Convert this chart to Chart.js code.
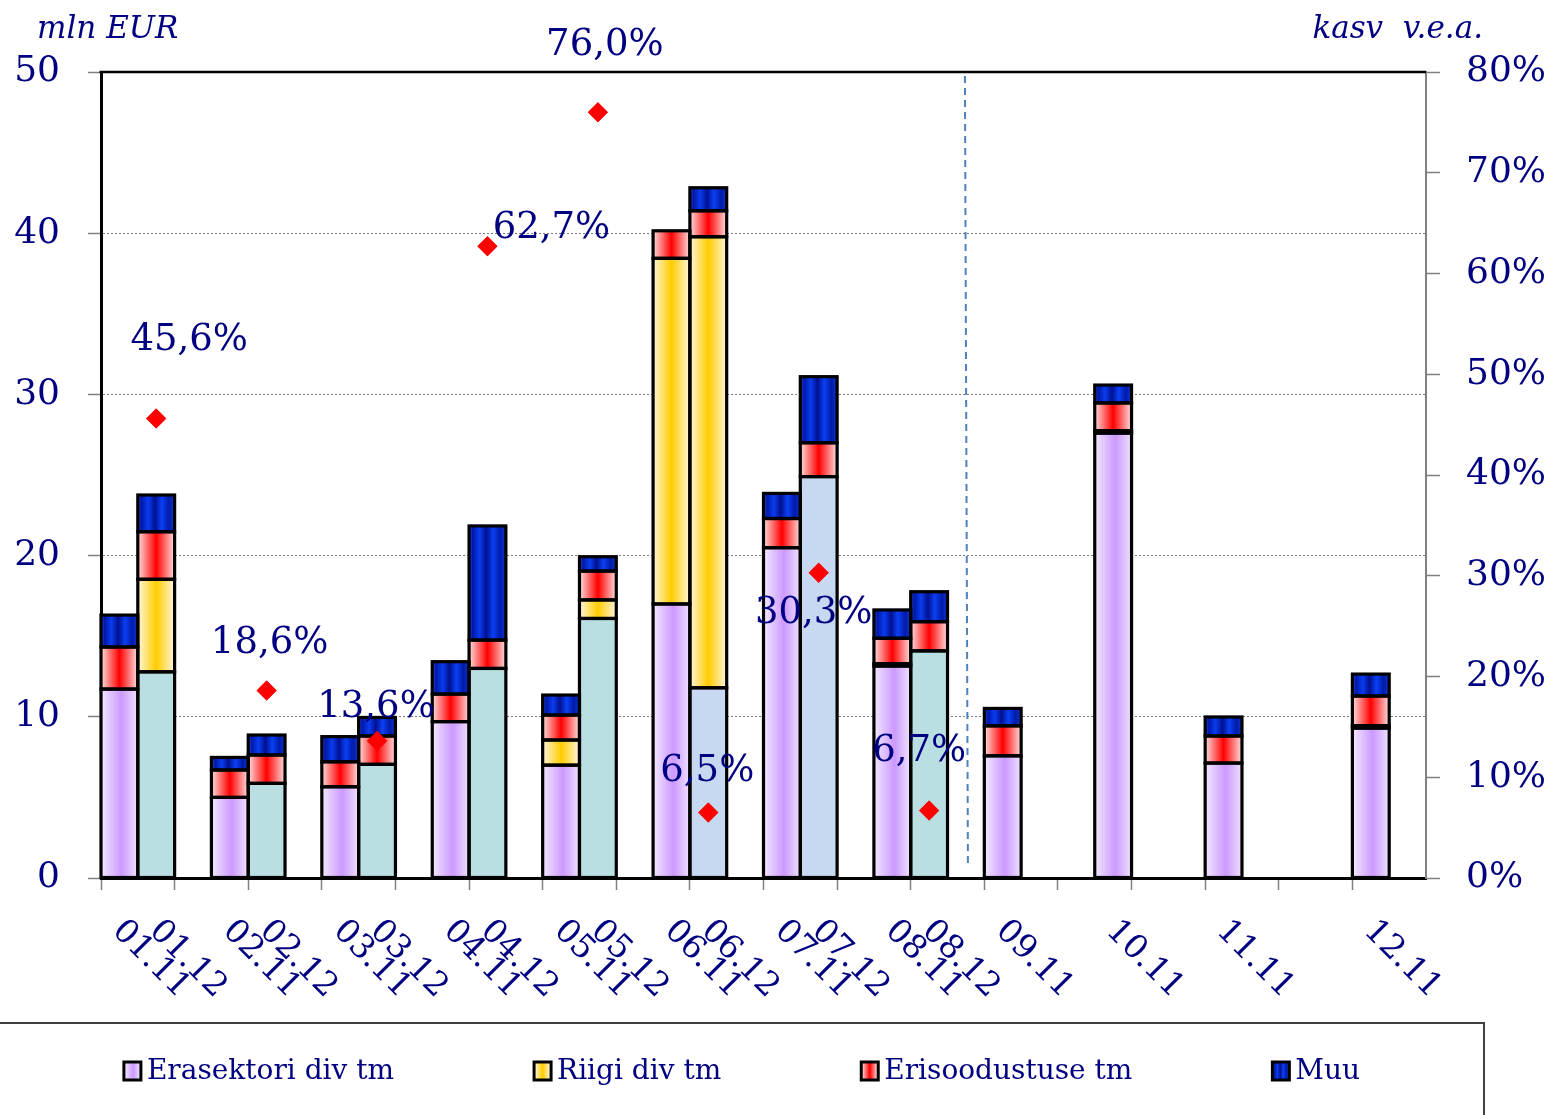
<!DOCTYPE html>
<html><head><meta charset="utf-8">
<script src="https://cdn.jsdelivr.net/npm/chart.js@4/dist/chart.umd.min.js"></script>
<style>html,body{margin:0;padding:0;background:#fff}#wrap{width:1555px;height:1115px;position:relative}</style>
</head><body><div id="wrap"><canvas id="c" width="1555" height="1115"></canvas></div>
<script>
// ---------- DATA ----------
const labels = ['01.11','01.12','','02.11','02.12','','03.11','03.12','','04.11','04.12','',
  '05.11','05.12','','06.11','06.12','','07.11','07.12','','08.11','08.12','',
  '09.11','','','10.11','','','11.11','','','','12.11',''];
const seriesNames = ['Erasektori div tm','Riigi div tm','Erisoodustuse tm','Muu'];
const erasektori = [11.72,12.79,null,5.0,5.87,null,5.66,7.05,null,9.7,13.0,null,
  7.0,16.1,null,17.0,11.8,null,20.49,24.9,null,13.15,14.09,null,
  7.58,null,null,27.6,null,null,7.13,null,null,null,9.3,null];
const riigi = [null,5.74,null,null,null,null,null,null,null,null,null,null,
  1.56,1.15,null,21.44,27.98,null,null,null,null,0.15,null,null,
  null,null,null,0.15,null,null,null,null,null,null,0.15,null];
const erisoodustuse = [2.61,2.95,null,1.7,1.76,null,1.55,1.76,null,1.71,1.76,null,
  1.55,1.79,null,1.71,1.61,null,1.81,2.1,null,1.57,1.81,null,
  1.86,null,null,1.72,null,null,1.68,null,null,null,1.84,null];
const muu = [1.98,2.28,null,0.78,1.24,null,1.56,1.15,null,2.01,7.08,null,
  1.24,0.89,null,null,1.43,null,1.56,4.1,null,1.76,1.86,null,
  1.08,null,null,1.11,null,null,1.18,null,null,null,1.36,null];
const growthLabels = ['01.12','02.12','03.12','04.12','05.12','06.12','07.12','08.12'];
const growth = [45.6,18.6,13.6,62.7,76.0,6.5,30.3,6.7];
const leftTicks = [0,10,20,30,40,50];
const rightTicks = [0,10,20,30,40,50,60,70,80];
const rightTickLabels = ['0%','10%','20%','30%','40%','50%','60%','70%','80%'];
const leftTitle = 'mln EUR';
const rightTitle = 'kasv  v.e.a.';

// ---------- STYLE ----------
const NAVY = '#000080';
const FONT = '"DejaVu Serif", "Liberation Serif", serif';
const BAR_PCT = 1.09;
const PURPLE = [[0,'#f6f0ff'],[0.55,'#cc99ff'],[1,'#f2e9ff']];
const YELLOW = [[0,'#fffaf0'],[0.5,'#ffcc00'],[1,'#fffaf0']];
const RED = [[0,'#fff2f2'],[0.5,'#ff0000'],[1,'#fff2f2']];
const BLUE = [[0,'#3a6cff'],[0.13,'#0018a8'],[0.3,'#0a3cf0'],[0.47,'#001090'],[0.64,'#0a40f5'],[0.82,'#001aa8'],[1,'#1040e0']];
const TEAL = '#b9dfe3';
const LIGHTBLUE = '#c6d9f1';
const lightBlueBars = ['06.12','07.12'];
const labelOffsets = [[33,-78],[3,-47],[-1,-34],[64,-18],[7,-67],[-1,-41],[-5,41],[-10,-59]];
const OUTLINE = 3.2;

function makeGrad(c2d, x0, x1, stops) {
  const g = c2d.createLinearGradient(x0, 0, x1, 0);
  stops.forEach(([o, c]) => g.addColorStop(o, c));
  return g;
}
function barGrad(stops) {
  return (ctx) => {
    const chart = ctx.chart, xs = chart.scales.x;
    if (!xs || !chart.chartArea || ctx.dataIndex === undefined) return stops[1][1];
    const cx = xs.getPixelForValue(ctx.dataIndex);
    const w = (xs.width / labels.length) * BAR_PCT;
    return makeGrad(chart.ctx, cx - w / 2, cx + w / 2, stops);
  };
}
const purpleGrad = barGrad(PURPLE);
function erasColor(ctx) {
  const l = labels[ctx.dataIndex] || '';
  if (l.endsWith('.12')) return lightBlueBars.includes(l) ? LIGHTBLUE : TEAL;
  return purpleGrad(ctx);
}

const growthData = labels.map(l => { const i = growthLabels.indexOf(l); return i >= 0 ? growth[i] : null; });

const barCommon = { type: 'bar', stack: 's', order: 1, yAxisID: 'y', borderColor: '#000', borderWidth: 0,
  barPercentage: 1, categoryPercentage: 1, inflateAmount: 0 };

// ---------- PLUGINS ----------
const decor = {
  id: 'decor',
  beforeDatasetsDraw(chart) {
    const { ctx, chartArea: a, scales: { x } } = chart;
    const vx = x.getPixelForValue(23);
    ctx.save();
    ctx.strokeStyle = '#4f81bd'; ctx.lineWidth = 2; ctx.setLineDash([7, 5]);
    ctx.beginPath(); ctx.moveTo(vx - 1, a.top + 4); ctx.lineTo(vx + 2, a.bottom - 10); ctx.stroke();
    ctx.restore();
  },
  afterDatasetsDraw(chart) {
    const { ctx, chartArea: a } = chart;
    ctx.save();
    // outline every bar segment (centred stroke like the original)
    ctx.strokeStyle = '#000'; ctx.lineWidth = OUTLINE; ctx.lineJoin = 'miter';
    chart.data.datasets.forEach((ds, di) => {
      if (ds.type !== 'bar') return;
      chart.getDatasetMeta(di).data.forEach((el, i) => {
        if (ds.data[i] === null || ds.data[i] === undefined) return;
        const l = el.x - el.width / 2, r = el.x + el.width / 2;
        const top = Math.min(el.y, el.base), bot = Math.max(el.y, el.base);
        ctx.strokeRect(l, top, r - l, bot - top);
      });
    });
    // redraw growth points over outlines
    const pm = chart.getDatasetMeta(0);
    pm.data.forEach(p => { if (!p.skip) p.draw(ctx, a); });
    ctx.strokeStyle = '#000'; ctx.lineWidth = 2.5;
    ctx.beginPath(); ctx.moveTo(a.left - 1.5, a.top); ctx.lineTo(a.right, a.top); ctx.stroke();
    ctx.font = '37px ' + FONT; ctx.fillStyle = NAVY; ctx.textAlign = 'center'; ctx.textBaseline = 'middle';
    let k = 0;
    pm.data.forEach((pt, i) => {
      const v = chart.data.datasets[0].data[i];
      if (v === null || v === undefined) return;
      const off = labelOffsets[k++] || [0, -30];
      ctx.fillText(v.toFixed(1).replace('.', ',') + '%', pt.x + off[0], pt.y + off[1]);
    });
    ctx.restore();
  },
  afterDraw(chart) {
    const { ctx, chartArea: a, scales: { x } } = chart;
    ctx.save();
    ctx.font = '33px ' + FONT; ctx.fillStyle = NAVY; ctx.textAlign = 'left'; ctx.textBaseline = 'middle';
    labels.forEach((l, i) => {
      if (!l) return;
      const px = x.getPixelForValue(i);
      ctx.save(); ctx.translate(px - 2, a.bottom + 48); ctx.rotate(Math.PI / 4); ctx.fillText(l, 0, 0); ctx.restore();
    });
    ctx.font = 'italic 31px ' + FONT; ctx.textBaseline = 'alphabetic';
    ctx.textAlign = 'left'; ctx.fillText(leftTitle, 37, 38);
    ctx.textAlign = 'right'; ctx.fillText(rightTitle, 1483, 38);
    ctx.strokeStyle = '#404040'; ctx.lineWidth = 2;
    ctx.beginPath(); ctx.moveTo(0, 1023); ctx.lineTo(1484, 1023); ctx.lineTo(1484, 1115); ctx.stroke();
    const stopsFor = [PURPLE, YELLOW, RED, BLUE];
    ctx.font = '28px ' + FONT; ctx.textBaseline = 'middle'; ctx.textAlign = 'left';
    const boxW = 17, boxH = 18, boxGap = 6, itemGap = 140, cy = 1071;
    const widths = seriesNames.map(n => boxW + boxGap + ctx.measureText(n).width);
    const total = widths.reduce((s, w) => s + w, 0) + itemGap * (seriesNames.length - 1);
    let sx = 742 - total / 2;
    seriesNames.forEach((n, i) => {
      ctx.fillStyle = makeGrad(ctx, sx, sx + boxW, stopsFor[i]);
      ctx.fillRect(sx, cy - boxH / 2, boxW, boxH);
      ctx.strokeStyle = '#000'; ctx.lineWidth = 3; ctx.strokeRect(sx, cy - boxH / 2, boxW, boxH);
      ctx.fillStyle = NAVY; ctx.fillText(n, sx + boxW + boxGap, cy + 1);
      sx += widths[i] + itemGap;
    });
    ctx.restore();
  }
};

new Chart(document.getElementById('c'), {
  data: {
    labels: labels,
    datasets: [
      { type: 'line', label: 'kasv', data: growthData, yAxisID: 'y2', order: 0, showLine: false,
        pointStyle: 'rectRot', pointRadius: 10, pointBackgroundColor: '#ff0000', pointBorderWidth: 0, borderColor: '#ff0000' },
      Object.assign({ label: seriesNames[0], data: erasektori, backgroundColor: erasColor }, barCommon),
      Object.assign({ label: seriesNames[1], data: riigi, backgroundColor: barGrad(YELLOW) }, barCommon),
      Object.assign({ label: seriesNames[2], data: erisoodustuse, backgroundColor: barGrad(RED) }, barCommon),
      Object.assign({ label: seriesNames[3], data: muu, backgroundColor: barGrad(BLUE) }, barCommon)
    ]
  },
  options: {
    responsive: false, animation: false, devicePixelRatio: 1,
    layout: { padding: { top: 72, left: 0, right: 0, bottom: 0 } },
    plugins: { legend: { display: false }, tooltip: { enabled: false } },
    scales: {
      x: {
        type: 'category', offset: true, stacked: true,
        afterFit: s => { s.height = 237; },
        ticks: { display: false },
        grid: { offset: true, drawOnChartArea: false, drawTicks: true, tickLength: 12,
          tickColor: (c) => (c.index % 2 === 0 ? '#808080' : 'rgba(0,0,0,0)'), tickWidth: 1.5,
          color: 'rgba(0,0,0,0)' },
        border: { display: true, color: '#000', width: 3 }
      },
      y: {
        position: 'left', stacked: true, min: leftTicks[0], max: leftTicks[leftTicks.length - 1],
        afterBuildTicks: s => { s.ticks = leftTicks.map(v => ({ value: v })); },
        afterFit: s => { s.width = 101; },
        ticks: { color: NAVY, font: { family: FONT, size: 36 }, padding: 28 },
        grid: { drawOnChartArea: true, tickLength: 13, tickColor: '#808080', tickWidth: 1.5,
          color: (c) => (c.tick && (c.tick.value === leftTicks[0] || c.tick.value === leftTicks[leftTicks.length - 1]) ? 'rgba(0,0,0,0)' : '#7a7a7a'),
          lineWidth: 1 },
        border: { display: true, color: '#000', width: 3, dash: [2, 2] }
      },
      y2: {
        position: 'right', min: rightTicks[0], max: rightTicks[rightTicks.length - 1],
        afterBuildTicks: s => { s.ticks = rightTicks.map(v => ({ value: v })); },
        afterFit: s => { s.width = 129; },
        ticks: { color: NAVY, font: { family: FONT, size: 36 }, padding: 26,
          callback: (v, i) => rightTickLabels[i] },
        grid: { drawOnChartArea: false, tickLength: 14, tickColor: '#808080', tickWidth: 1.5 },
        border: { display: true, color: '#808080', width: 2 }
      }
    }
  },
  plugins: [decor]
});
</script></body></html>
